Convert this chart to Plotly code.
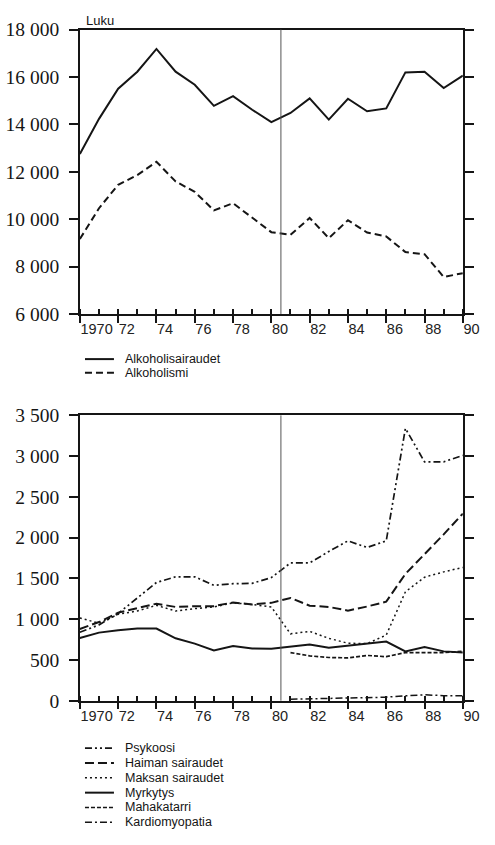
import plotly.graph_objects as go

# ---------------- data ----------------
YEARS = list(range(1970, 1991))

ALKOHOLISAIRAUDET = [12750, 14230, 15500, 16220, 17180, 16220, 15670, 14780, 15190, 14615,
                     14090, 14480, 15095, 14200, 15080, 14550, 14670, 16190, 16220, 15530, 16055]
ALKOHOLISMI = [9160, 10460, 11450, 11860, 12420, 11590, 11150, 10370, 10670, 10050,
               9450, 9340, 10050, 9200, 9955, 9435, 9270, 8610, 8520, 7560, 7720]

PSYKOOSI = [840, 930, 1070, 1260, 1450, 1520, 1520, 1415, 1435, 1440,
            1510, 1690, 1690, 1830, 1960, 1880, 1960, 3340, 2930, 2930, 3010]
HAIMAN_SAIRAUDET = [880, 965, 1080, 1135, 1190, 1150, 1160, 1160, 1205, 1180,
                    1200, 1260, 1165, 1150, 1105, 1155, 1215, 1555, 1795, 2040, 2295]
MAKSAN_SAIRAUDET = [1015, 950, 1060, 1100, 1170, 1100, 1130, 1150, 1200, 1180,
                    1150, 820, 850, 765, 705, 700, 805, 1335, 1515, 1580, 1635]
MYRKYTYS = [770, 835, 865, 885, 885, 765, 700, 617, 670, 640,
            637, 665, 689, 649, 677, 705, 725, 605, 658, 605, 590]
MAHAKATARRI = [None] * 11 + [590, 550, 530, 525, 555, 540, 590, 590, 590, 605]
KARDIOMYOPATIA = [None] * 11 + [18, 24, 24, 28, 36, 43, 61, 72, 62, 62]

CHANGE_YEAR = 1980.5

X_TICK_YEARS = [1970, 1972, 1974, 1976, 1978, 1980, 1982, 1984, 1986, 1988, 1990]
X_TICK_TEXT = ["1970", "72", "74", "76", "78", "80", "82", "84", "86", "88", "90"]
TOP_Y_TICKS = [6000, 8000, 10000, 12000, 14000, 16000, 18000]
BOTTOM_Y_TICKS = [0, 500, 1000, 1500, 2000, 2500, 3000, 3500]

TOP_LABELS = ["Alkoholisairaudet", "Alkoholismi"]
BOTTOM_LABELS = ["Psykoosi", "Haiman sairaudet", "Maksan sairaudet",
                 "Myrkytys", "Mahakatarri", "Kardiomyopatia"]

# ---------------- styling ----------------
W, H = 495, 845
INK = "#151515"
SERIF = "Liberation Serif"
SANS = "Liberation Sans"


def px(x):
    return x / W


def py(y):
    return 1 - y / H


X_DOM = [px(82.7), px(479.3)]
TOP_DOM = [py(311.7), py(20)]
BOT_DOM = [py(708.3), py(415.7)]

STYLES = {
    "Alkoholisairaudet": dict(width=2, dash="solid"),
    "Alkoholismi": dict(width=2, dash="7px,4px"),
    "Psykoosi": dict(width=1.7, dash="7px,3px,2px,3px,2px,3px"),
    "Haiman sairaudet": dict(width=2, dash="9px,4px"),
    "Maksan sairaudet": dict(width=1.5, dash="2px,3px"),
    "Myrkytys": dict(width=2, dash="solid"),
    "Mahakatarri": dict(width=1.7, dash="4px,2px"),
    "Kardiomyopatia": dict(width=1.5, dash="7px,3px,2px,3px"),
}

fig = go.Figure()

top_series = [ALKOHOLISAIRAUDET, ALKOHOLISMI]
for name, vals in zip(TOP_LABELS, top_series):
    fig.add_trace(go.Scatter(x=YEARS, y=vals, mode="lines", name=name,
                             line=dict(color=INK, **STYLES[name]),
                             xaxis="x", yaxis="y", showlegend=False,
                             hoverinfo="skip"))

bottom_series = [PSYKOOSI, HAIMAN_SAIRAUDET, MAKSAN_SAIRAUDET, MYRKYTYS,
                 MAHAKATARRI, KARDIOMYOPATIA]
for name, vals in zip(BOTTOM_LABELS, bottom_series):
    fig.add_trace(go.Scatter(x=YEARS, y=vals, mode="lines", name=name,
                             line=dict(color=INK, **STYLES[name]),
                             xaxis="x2", yaxis="y2", showlegend=False,
                             connectgaps=False, hoverinfo="skip"))

common_x = dict(range=[1970, 1990], tickvals=X_TICK_YEARS, ticktext=X_TICK_TEXT,
                ticks="outside", ticklen=7, tickwidth=1.6, tickcolor=INK,
                minor=dict(tickvals=YEARS, ticks="inside", ticklen=5,
                           tickwidth=1.6, tickcolor=INK, showgrid=False),
                showline=True, linewidth=1.6, linecolor=INK, mirror=True,
                showgrid=False, zeroline=False,
                ticklabelposition="outside right", ticklabeloverflow="allow",
                ticklabelshift=-1, ticklabelstandoff=1,
                tickfont=dict(family=SANS, size=14.5, color="#222"))
common_y = dict(ticks="outside", ticklen=9, tickwidth=1.6, tickcolor=INK,
                showline=True, linewidth=1.6, linecolor=INK, mirror="ticks",
                showgrid=False, zeroline=False, tickformat=",d",
                ticklabelstandoff=6,
                tickfont=dict(family=SERIF, size=19.5, color=INK))

fig.update_layout(
    width=W, height=H,
    margin=dict(l=0, r=0, t=0, b=0),
    paper_bgcolor="white", plot_bgcolor="white",
    separators=", ",
    showlegend=False,
    xaxis=dict(domain=X_DOM, anchor="y", **common_x),
    yaxis=dict(domain=TOP_DOM, anchor="x", range=[6000, 18000],
               tickvals=TOP_Y_TICKS, **common_y),
    xaxis2=dict(domain=X_DOM, anchor="y2", **common_x),
    yaxis2=dict(domain=BOT_DOM, anchor="x2", range=[0, 3500],
                tickvals=BOTTOM_Y_TICKS, **common_y),
)

# reference line at change of classification
fig.add_shape(type="line", xref="x", yref="y domain", x0=CHANGE_YEAR, x1=CHANGE_YEAR,
              y0=0, y1=1, line=dict(color="#555", width=1))
fig.add_shape(type="line", xref="x2", yref="y2 domain", x0=CHANGE_YEAR, x1=CHANGE_YEAR,
              y0=0, y1=1, line=dict(color="#555", width=1))

# "Luku" unit label
fig.add_annotation(x=px(87), y=py(11), xref="paper", yref="paper", text="Luku",
                   showarrow=False, xanchor="left", yanchor="middle",
                   font=dict(family=SANS, size=13, color=INK))


def legend_block(labels, y_centers):
    for lab, yc in zip(labels, y_centers):
        st = STYLES[lab]
        fig.add_shape(type="line", xref="paper", yref="paper",
                      x0=px(88), x1=px(118), y0=py(yc), y1=py(yc),
                      line=dict(color=INK, width=st["width"], dash=st["dash"]))
        fig.add_annotation(x=px(127), y=py(yc), xref="paper", yref="paper", text=lab,
                           showarrow=False, xanchor="left", yanchor="middle",
                           font=dict(family=SANS, size=12.5, color=INK))


legend_block(TOP_LABELS, [358, 372])
legend_block(BOTTOM_LABELS, [757, 772.2, 787.4, 802.6, 817.8, 833])

fig.write_html("out.html", config={"displayModeBar": False},
               post_script="document.body.style.margin='0px';")
